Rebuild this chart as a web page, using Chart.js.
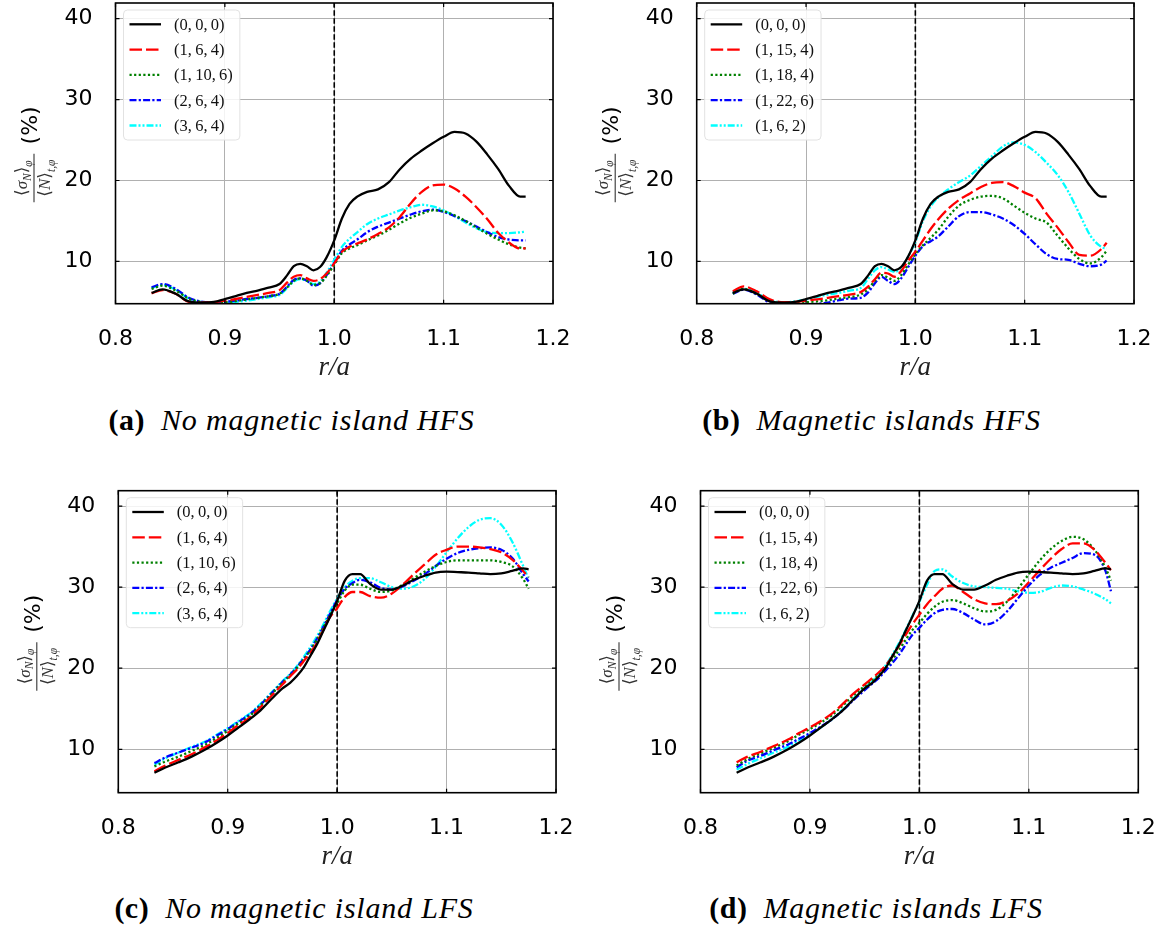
<!DOCTYPE html>
<html><head><meta charset="utf-8">
<script src="https://cdn.jsdelivr.net/npm/chart.js@4.4.1/dist/chart.umd.min.js"></script>
<style>
html,body{margin:0;padding:0;background:#fff;}
body{width:1158px;height:930px;position:relative;overflow:hidden;}
canvas{position:absolute;}
.cap{position:absolute;text-align:center;font-family:"Liberation Serif","DejaVu Serif",serif;font-size:30px;line-height:34px;color:#000;white-space:nowrap;}
.cap b{font-weight:bold;font-style:normal;margin-right:16px;letter-spacing:0.5px;}
.cap i{font-style:italic;letter-spacing:0.8px;}
</style></head><body>
<canvas id="ca" width="579" height="400" style="left:0;top:0"></canvas>
<canvas id="cb" width="579" height="400" style="left:579px;top:0"></canvas>
<canvas id="cc" width="579" height="400" style="left:0;top:487px"></canvas>
<canvas id="cd" width="579" height="400" style="left:579px;top:487px"></canvas>
<div class="cap" style="left:0;width:583px;top:403px"><b>(a)</b><i>No magnetic island HFS</i></div>
<div class="cap" style="left:579px;width:585px;top:403px"><b>(b)</b><i>Magnetic islands HFS</i></div>
<div class="cap" style="left:0;width:588px;top:891px"><b>(c)</b><i>No magnetic island LFS</i></div>
<div class="cap" style="left:579px;width:594px;top:891px"><b>(d)</b><i>Magnetic islands LFS</i></div>
<script>
// ---------------- data ----------------
const R = [0.833, 0.843, 0.855, 0.867, 0.88, 0.89, 0.90, 0.91, 0.92, 0.93, 0.94, 0.95, 0.957, 0.963, 0.969, 0.975, 0.981, 0.987, 0.993, 1.0, 1.007, 1.014, 1.021, 1.03, 1.04, 1.05, 1.06, 1.07, 1.08, 1.09, 1.10, 1.11, 1.12, 1.13, 1.14, 1.15, 1.16, 1.17, 1.175];
const XTICKS = [0.8, 0.9, 1.0, 1.1, 1.2];
const YTICKS = [10, 20, 30, 40];
const SEPARATRIX = 1.0;

const LABELS_NOISL = ['(0,\u20090,\u20090)', '(1,\u20096,\u20094)', '(1,\u200910,\u20096)', '(2,\u20096,\u20094)', '(3,\u20096,\u20094)'];
const LABELS_ISL = ['(0,\u20090,\u20090)', '(1,\u200915,\u20094)', '(1,\u200918,\u20094)', '(1,\u200922,\u20096)', '(1,\u20096,\u20092)'];

// HFS, reference case (0,0,0)
const HFS_000 = [6.1, 6.55, 6.0, 5.05, 4.9, 5.0, 5.35, 5.7, 6.1, 6.4, 6.75, 7.2, 8.3, 9.4, 9.7, 9.4, 8.9, 9.3, 10.5, 12.6, 15.3, 17.1, 18.0, 18.6, 18.9, 19.8, 21.4, 22.7, 23.7, 24.6, 25.4, 26.0, 25.8, 24.8, 23.2, 21.4, 19.3, 18.0, 18.0];
// (a) no magnetic island HFS
const A_164 = [6.05, 6.45, 6.0, 5.0, 4.9, 4.95, 5.15, 5.35, 5.6, 5.85, 6.1, 6.45, 7.4, 8.1, 8.3, 7.9, 7.6, 7.8, 8.5, 9.75, 11.2, 11.8, 12.2, 12.7, 13.4, 14.2, 15.5, 17.2, 18.6, 19.4, 19.5, 19.0, 18.0, 16.7, 15.2, 13.5, 12.3, 11.6, 11.6];
const A_1106 = [6.6, 7.0, 6.4, 5.4, 4.95, 4.9, 4.95, 5.1, 5.3, 5.5, 5.7, 6.0, 6.8, 7.6, 7.9, 7.6, 7.1, 7.3, 8.2, 9.6, 11.0, 11.6, 12.0, 12.6, 13.2, 13.9, 14.7, 15.4, 15.9, 16.3, 16.2, 15.7, 15.0, 14.2, 13.4, 12.7, 12.1, 11.7, 11.6];
const A_264 = [6.8, 7.2, 6.6, 5.5, 5.0, 4.9, 5.0, 5.15, 5.35, 5.5, 5.7, 6.0, 6.9, 7.7, 7.9, 7.6, 7.0, 7.3, 8.3, 9.8, 11.3, 12.1, 12.7, 13.6, 14.3, 14.8, 15.3, 15.8, 16.2, 16.4, 16.1, 15.6, 15.0, 14.3, 13.6, 13.0, 12.7, 12.6, 12.6];
const A_364 = [6.7, 7.1, 6.5, 5.4, 4.95, 4.85, 4.9, 5.0, 5.15, 5.35, 5.55, 5.85, 6.7, 7.5, 7.8, 7.6, 7.2, 7.5, 8.6, 10.2, 11.8, 12.8, 13.6, 14.6, 15.3, 15.8, 16.3, 16.7, 17.0, 16.8, 16.3, 15.6, 14.8, 14.1, 13.6, 13.5, 13.5, 13.6, 13.7];
// (b) magnetic islands HFS
const B_1154 = [6.3, 6.9, 6.3, 5.3, 4.95, 5.0, 5.15, 5.3, 5.5, 5.7, 5.9, 6.2, 6.9, 7.8, 8.6, 8.5, 8.1, 8.8, 10.0, 11.2, 12.6, 14.0, 15.2, 16.5, 17.6, 18.4, 19.2, 19.7, 19.8, 19.3, 18.5, 17.8, 15.9, 14.2, 12.4, 10.8, 10.7, 11.5, 12.3];
const B_1184 = [6.0, 6.6, 6.0, 5.1, 4.85, 4.85, 4.95, 5.05, 5.2, 5.4, 5.6, 5.9, 6.6, 7.6, 8.3, 8.0, 7.6, 8.3, 9.5, 10.9, 12.0, 12.9, 13.9, 15.5, 16.9, 17.6, 18.0, 18.1, 17.8, 16.9, 16.0, 15.3, 14.8, 13.2, 11.6, 10.3, 9.75, 10.5, 11.3];
const B_1226 = [6.0, 6.5, 5.9, 4.9, 4.7, 4.7, 4.7, 4.75, 4.9, 5.2, 5.4, 5.5, 6.2, 7.3, 8.1, 7.6, 7.2, 7.9, 9.2, 10.7, 11.9, 12.5, 13.1, 14.3, 15.6, 16.1, 16.1, 15.8, 15.3, 14.5, 13.4, 12.1, 10.9, 10.3, 10.2, 9.7, 9.4, 9.6, 10.1];
const B_162 = [6.1, 6.6, 6.1, 5.2, 4.95, 5.05, 5.3, 5.6, 5.9, 6.1, 6.4, 6.7, 7.9, 8.9, 9.3, 9.0, 8.7, 9.2, 10.5, 12.4, 15.0, 16.8, 17.9, 18.9, 19.8, 20.6, 21.8, 23.0, 24.2, 24.7, 24.4, 23.5, 22.2, 20.7, 18.6, 15.9, 13.2, 11.8, 11.6];
// LFS, reference case (0,0,0)
const LFS_000 = [7.1, 7.75, 8.4, 9.1, 10.0, 10.8, 11.7, 12.7, 13.7, 14.8, 16.2, 17.5, 18.2, 19.0, 20.0, 21.4, 22.8, 24.5, 26.2, 28.3, 30.8, 31.6, 31.6, 30.4, 29.7, 29.7, 30.2, 30.9, 31.4, 31.8, 31.9, 31.85, 31.8, 31.7, 31.6, 31.7, 32.0, 32.3, 32.2];
// (c) no magnetic island LFS
const C_164 = [7.3, 8.0, 8.7, 9.4, 10.3, 11.1, 12.0, 13.0, 13.9, 15.2, 16.6, 18.0, 19.0, 19.8, 20.8, 21.8, 23.0, 24.6, 26.2, 27.4, 28.8, 29.4, 29.4, 28.9, 28.7, 29.2, 30.3, 31.6, 32.8, 34.0, 34.6, 35.0, 35.0, 34.9, 34.7, 34.3, 33.4, 32.0, 31.2];
const C_1106 = [7.9, 8.5, 9.1, 9.8, 10.6, 11.4, 12.3, 13.2, 14.1, 15.4, 16.8, 18.2, 19.1, 20.0, 21.0, 22.1, 23.4, 24.9, 26.4, 28.0, 29.6, 30.3, 30.3, 29.8, 29.4, 29.6, 30.3, 31.1, 31.9, 32.6, 33.1, 33.3, 33.3, 33.3, 33.3, 33.1, 32.6, 31.0, 29.8];
const C_264 = [8.3, 9.0, 9.6, 10.2, 10.9, 11.7, 12.5, 13.4, 14.3, 15.5, 16.9, 18.3, 19.2, 20.1, 21.1, 22.2, 23.5, 25.0, 26.6, 28.4, 29.8, 30.5, 30.9, 30.6, 29.9, 29.7, 30.1, 30.8, 31.6, 32.6, 33.5, 34.2, 34.6, 34.8, 34.9, 34.6, 33.6, 31.6, 30.7];
const C_364 = [8.1, 8.9, 9.6, 10.3, 11.0, 11.8, 12.6, 13.5, 14.4, 15.6, 17.0, 18.4, 19.3, 20.2, 21.3, 22.5, 23.8, 25.3, 26.9, 28.6, 30.0, 30.8, 31.1, 31.1, 30.6, 30.0, 29.8, 30.1, 31.0, 32.5, 34.3, 36.0, 37.4, 38.3, 38.5, 37.7, 35.6, 32.6, 31.0];
// (d) magnetic islands LFS
const D_1154 = [8.4, 9.1, 9.7, 10.4, 11.2, 12.0, 12.7, 13.5, 14.4, 15.6, 16.9, 18.0, 18.8, 19.5, 20.3, 21.4, 22.7, 24.0, 25.3, 26.6, 27.9, 28.9, 29.8, 30.2, 29.4, 28.5, 28.0, 27.9, 28.3, 29.2, 30.6, 32.1, 33.5, 34.7, 35.4, 35.4, 34.6, 33.0, 32.1];
const D_1184 = [8.0, 8.8, 9.5, 10.2, 11.0, 11.8, 12.5, 13.3, 14.2, 15.4, 16.7, 17.8, 18.5, 19.2, 20.0, 21.0, 22.2, 23.4, 24.6, 25.6, 26.7, 27.6, 28.2, 28.4, 28.0, 27.4, 27.0, 27.2, 28.2, 29.8, 31.6, 33.3, 34.7, 35.7, 36.2, 35.9, 34.6, 32.4, 30.8];
const D_1226 = [7.8, 8.6, 9.2, 9.9, 10.6, 11.3, 12.0, 12.8, 13.7, 14.8, 16.1, 17.3, 18.1, 18.8, 19.7, 20.6, 21.6, 22.8, 24.0, 25.0, 26.0, 26.8, 27.2, 27.3, 26.8, 26.0, 25.4, 25.8, 27.0, 28.6, 30.2, 31.5, 32.4, 33.0, 33.6, 34.2, 34.0, 32.0, 29.5];
const D_162 = [7.5, 8.2, 8.9, 9.6, 10.3, 11.1, 11.8, 12.7, 13.7, 14.9, 16.3, 17.6, 18.4, 19.3, 20.3, 21.6, 23.0, 24.6, 26.3, 28.2, 30.3, 32.0, 32.2, 31.3, 30.5, 30.1, 30.0, 29.9, 29.8, 29.5, 29.3, 29.4, 29.9, 30.2, 30.1, 29.7, 29.2, 28.5, 28.0];

// ---------------- styles ----------------
const STYLES = [
  {color: '#000000', dash: []},
  {color: '#ff0000', dash: [12.5, 4]},
  {color: '#008000', dash: [2.2, 2.4]},
  {color: '#0000ff', dash: [7, 2.2, 2.2, 2.2]},
  {color: '#00ffff', dash: [7, 2, 2, 2, 2, 2]}
];
const TICK_FONT = {family: 'DejaVu Sans', size: 22};
const XAX_H = 80;

function drawRich(ctx, pieces, cx, base) {
  let total = 0;
  pieces.forEach(p => { ctx.font = p[1]; p.w = ctx.measureText(p[0]).width; total += p.w; });
  let x = cx - total / 2;
  pieces.forEach(p => { ctx.font = p[1]; ctx.fillText(p[0], x, base + p[2]); x += p.w; });
}

const decoPlugin = {
  id: 'deco',
  beforeDatasetsDraw(chart) {
    const {ctx, chartArea: ca, scales: {x}} = chart;
    const px = x.getPixelForValue(SEPARATRIX);
    ctx.save();
    ctx.beginPath();
    ctx.rect(ca.left, ca.top, ca.right - ca.left, ca.bottom - ca.top);
    ctx.clip();
    ctx.strokeStyle = '#000'; ctx.lineWidth = 1.6; ctx.setLineDash([5.5, 2.5]);
    ctx.beginPath(); ctx.moveTo(px, ca.bottom); ctx.lineTo(px, ca.top); ctx.stroke();
    ctx.restore();
  },
  afterDatasetsDraw(chart) {
    const {ctx, chartArea: ca} = chart;
    const ds = chart.data.datasets;
    ctx.save();
    const LF = '16.5px "Liberation Serif", "DejaVu Serif", serif';
    ctx.font = LF;
    const maxW = Math.max(...ds.map(d => ctx.measureText(d.label).width));
    const x0 = ca.left + 8, y0 = ca.top + 7, w = 50.5 + maxW + 7, h = 130;
    ctx.fillStyle = 'rgba(255,255,255,0.85)';
    ctx.strokeStyle = '#e2e2e2'; ctx.lineWidth = 1;
    ctx.beginPath(); ctx.roundRect(x0, y0, w, h, 4); ctx.fill(); ctx.stroke();
    ds.forEach((d, i) => {
      const y = y0 + 14.3 + i * 25.3;
      ctx.strokeStyle = d.borderColor; ctx.lineWidth = d.borderWidth;
      ctx.setLineDash(d.borderDash || []); ctx.lineCap = 'butt';
      ctx.beginPath(); ctx.moveTo(x0 + 6, y); ctx.lineTo(x0 + 37.5, y); ctx.stroke();
      ctx.setLineDash([]);
      ctx.fillStyle = '#111'; ctx.font = LF; ctx.textBaseline = 'middle'; ctx.textAlign = 'left';
      ctx.fillText(d.label, x0 + 50.5, y + 1);
    });
    ctx.restore();
  },
  afterDraw(chart) {
    const {ctx, chartArea: ca, scales: {x, y}} = chart;
    ctx.save();
    // inward ticks
    ctx.strokeStyle = '#000'; ctx.lineWidth = 1.2; ctx.setLineDash([]);
    ctx.beginPath();
    XTICKS.forEach(v => { const p = x.getPixelForValue(v);
      ctx.moveTo(p, ca.bottom); ctx.lineTo(p, ca.bottom - 4);
      ctx.moveTo(p, ca.top); ctx.lineTo(p, ca.top + 4); });
    YTICKS.forEach(v => { const p = y.getPixelForValue(v);
      ctx.moveTo(ca.left, p); ctx.lineTo(ca.left + 4, p);
      ctx.moveTo(ca.right, p); ctx.lineTo(ca.right - 4, p); });
    ctx.stroke();
    // frame
    ctx.lineWidth = 1.6;
    ctx.strokeRect(ca.left, ca.top, ca.right - ca.left, ca.bottom - ca.top);
    // y title: fraction + (%)
    const mid = (ca.top + ca.bottom) / 2;
    ctx.translate(ca.left - 81.5, mid);
    ctx.rotate(-Math.PI / 2);
    ctx.fillStyle = '#333'; ctx.strokeStyle = '#333';
    ctx.textBaseline = 'alphabetic'; ctx.textAlign = 'left';
    const BR = '17px "DejaVu Serif", serif';
    const IT = 'italic 17px "Liberation Serif", serif';
    const SB = 'italic 11.5px "Liberation Serif", serif';
    drawRich(ctx, [['\u27E8', BR, 0], ['\u03C3', IT, 0], ['N', SB, 3.5], ['\u27E9', BR, 0], ['\u03C6', SB, 4.5]], -24.8, -7);
    ctx.lineWidth = 1.1;
    ctx.beginPath(); ctx.moveTo(-49, 0); ctx.lineTo(-0.5, 0); ctx.stroke();
    drawRich(ctx, [['\u27E8', BR, 0], ['N', IT, 0], ['\u27E9', BR, 0], ['t,\u03C6', SB, 4.5]], -24.8, 16);
    ctx.fillStyle = '#000';
    ctx.font = '22px "DejaVu Sans", sans-serif';
    ctx.textAlign = 'center'; ctx.textBaseline = 'middle';
    ctx.fillText('(%)', 28, -2.5);
    ctx.restore();
  }
};

function makeChart(id, box, labels, series, yr) {
  const cv = document.getElementById(id);
  const W = cv.width, H = cv.height;
  return new Chart(cv, {
    type: 'line',
    data: {
      datasets: series.map((vals, i) => ({
        label: labels[i],
        data: R.map((xv, j) => ({x: xv, y: vals[j]})),
        borderColor: STYLES[i].color,
        borderWidth: 2.3,
        borderDash: STYLES[i].dash,
        borderCapStyle: 'butt',
        pointRadius: 0,
        fill: false,
        cubicInterpolationMode: 'monotone'
      }))
    },
    options: {
      responsive: false, animation: false, devicePixelRatio: 1,
      layout: {padding: {left: 0, top: box.top, right: W - box.right, bottom: H - box.bottom - XAX_H}},
      plugins: {legend: {display: false}, tooltip: {enabled: false}},
      scales: {
        x: {
          type: 'linear', min: 0.8, max: 1.2,
          afterBuildTicks: s => { s.ticks = XTICKS.map(v => ({value: v})); },
          afterFit: s => { s.height = XAX_H; s.paddingLeft = 0; s.paddingRight = 0; },
          grid: {color: '#b0b0b0', lineWidth: 1, drawTicks: false},
          border: {display: false},
          ticks: {color: '#000', font: TICK_FONT, padding: 22, maxRotation: 0, autoSkip: false,
                  callback: v => Number(v).toFixed(1)},
          title: {display: true, text: 'r/a', color: '#222',
                  font: {family: 'Liberation Serif', size: 27, style: 'italic'}, padding: 0}
        },
        y: {
          type: 'linear', min: yr[0], max: yr[1],
          afterBuildTicks: s => { s.ticks = YTICKS.map(v => ({value: v})); },
          afterFit: s => { s.width = box.left; s.paddingTop = 0; s.paddingBottom = 0; },
          grid: {color: '#b0b0b0', lineWidth: 1, drawTicks: false},
          border: {display: false},
          ticks: {color: '#000', font: TICK_FONT, padding: 23, callback: v => String(v)}
        }
      }
    },
    plugins: [decoPlugin]
  });
}

const YR_TOP = [4.77, 41.94];
const YR_BOT = [4.65, 41.89];
makeChart('ca', {left: 115.5, top: 3, right: 553, bottom: 303.7}, LABELS_NOISL, [HFS_000, A_164, A_1106, A_264, A_364], YR_TOP);
makeChart('cb', {left: 117.7, top: 3, right: 555, bottom: 303.7}, LABELS_ISL, [HFS_000, B_1154, B_1184, B_1226, B_162], YR_TOP);
makeChart('cc', {left: 118.3, top: 3.7, right: 556, bottom: 305.7}, LABELS_NOISL, [LFS_000, C_164, C_1106, C_264, C_364], YR_BOT);
makeChart('cd', {left: 121.5, top: 3.7, right: 559.3, bottom: 305.7}, LABELS_ISL, [LFS_000, D_1154, D_1184, D_1226, D_162], YR_BOT);
</script>
</body></html>
